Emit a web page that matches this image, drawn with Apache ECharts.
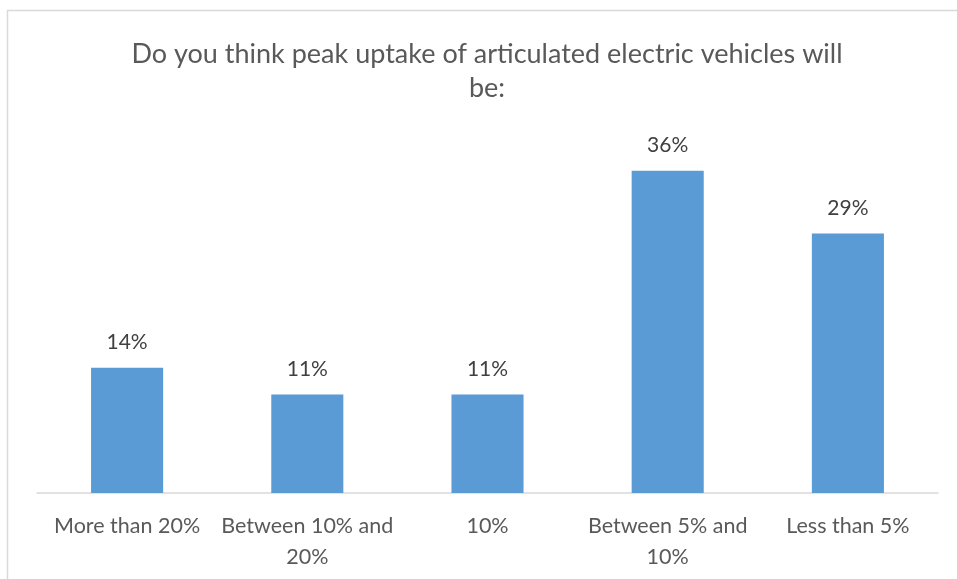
<!DOCTYPE html>
<html>
<head>
<meta charset="utf-8">
<script src="https://cdn.jsdelivr.net/npm/echarts@6/dist/echarts.min.js"></script>
<style>
  html, body { margin: 0; padding: 0; background: #fff; }
  #chart { width: 957px; height: 579px; }
</style>
</head>
<body>
<div id="chart"></div>
<script>
const titleText = 'Do you think peak uptake of articulated electric vehicles will\nbe:';
const categories = ['More than 20%', 'Between 10% and\n20%', '10%', 'Between 5% and\n10%', 'Less than 5%'];
const shares = [14, 11, 11, 36, 29];

const chart = echarts.init(document.getElementById('chart'));
const font = 'Lato';

chart.setOption({
  backgroundColor: '#fff',
  animation: false,
  graphic: [{
    type: 'rect',
    shape: { x: 7.5, y: 10.5, width: 980, height: 600 },
    style: { fill: 'none', stroke: '#d9d9d9', lineWidth: 1.5 },
    silent: true
  }],
  title: {
    text: titleText,
    left: 482,
    top: 32,
    textAlign: 'center',
    textStyle: {
      fontFamily: font,
      fontSize: 27,
      fontWeight: 'normal',
      color: '#595959',
      lineHeight: 34
    }
  },
  grid: { left: 37, right: 19, top: 135, bottom: 86 },
  xAxis: {
    type: 'category',
    data: categories,
    axisLine: { lineStyle: { color: '#d9d9d9', width: 1.5 } },
    axisTick: { show: false },
    axisLabel: {
      interval: 0,
      margin: 18,
      fontFamily: font,
      fontSize: 21.5,
      color: '#595959',
      lineHeight: 31
    }
  },
  yAxis: {
    type: 'value',
    min: 0,
    max: 40,
    show: false,
    splitLine: { show: false }
  },
  series: [{
    type: 'bar',
    data: shares,
    barCategoryGap: '60%',
    itemStyle: { color: '#5b9bd5' },
    label: {
      show: true,
      position: 'top',
      distance: 15,
      formatter: '{c}%',
      fontFamily: font,
      fontSize: 21,
      color: '#404040'
    }
  }]
});
</script>
</body>
</html>
